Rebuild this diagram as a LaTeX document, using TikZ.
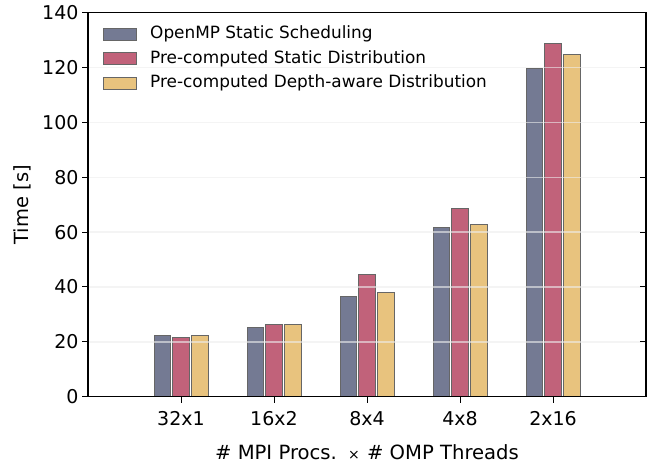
\documentclass[tikz,border=0pt]{standalone}
\usepackage{fontspec}
\setmainfont{DejaVu Sans}

\definecolor{ompblue}{HTML}{747A93}
\definecolor{statred}{HTML}{C1627A}
\definecolor{depthyel}{HTML}{E8C37E}

\tikzset{
  bar/.style={draw=black!60, line width=0.9pt},
  gridline/.style={draw=black!7, line width=1.4pt, opacity=0.6},
  ticklabel/.style={font=\fontsize{19}{22}\selectfont, inner sep=0pt},
  legendlabel/.style={font=\fontsize{16.9}{19}\selectfont, anchor=west, inner sep=0pt},
}

\begin{document}
\begin{tikzpicture}[x=1pt,y=1pt]
  \useasboundingbox (0,0) rectangle (656,466);

  \begin{scope}[shift={(88,69.3)}, x=93pt, y=2.743pt]
    % bars
    \foreach \cx/\va/\vb/\vc in {1/22.4/21.7/22.5, 2/25.4/26.5/26.2, 3/36.7/44.6/38.1, 4/61.8/68.5/62.9, 5/119.6/128.7/124.7} {
      \filldraw[bar, fill=ompblue]  (\cx-0.29,0) rectangle (\cx-0.11,\va);
      \filldraw[bar, fill=statred]  (\cx-0.09,0) rectangle (\cx+0.09,\vb);
      \filldraw[bar, fill=depthyel] (\cx+0.11,0) rectangle (\cx+0.29,\vc);
    }

    % grid
    \foreach \v in {20,40,...,120}
      \draw[gridline] (0,\v) -- (6,\v);

    % frame and ticks
    \draw[line width=1.3pt] (0,0) rectangle (6,140);
    \foreach \v in {0,20,...,140} {
      \draw[line width=1pt] (0,\v) -- ++(-6pt,0) node[ticklabel, anchor=east, xshift=-3pt] (ylab\v) {\v};
      \draw[line width=1pt] (6,\v) -- ++(-6pt,0);
    }
    \foreach \cx/\lab in {1/32x1, 2/16x2, 3/8x4, 4/4x8, 5/2x16}
      \draw[line width=1pt] (\cx,0) -- ++(0,-6pt) node[ticklabel, below=8pt] (xlab\cx) {\lab};

    \node[ticklabel, font=\fontsize{19.6}{22}\selectfont] (xtitle) at (3,0) [yshift=-55.3pt]
      {\# MPI Procs.\hspace{3pt} {\fontsize{14}{16}\selectfont×}\hspace{1pt} \# OMP Threads};
  \end{scope}

  \node[ticklabel, font=\fontsize{19.5}{22}\selectfont, rotate=90] (ytitle) at (22,261.3) {Time [s]};

  % legend
  \foreach \i/\col/\txt in {0/ompblue/OpenMP Static Scheduling, 1/statred/Pre-computed Static Distribution, 2/depthyel/Pre-computed Depth-aware Distribution} {
    \filldraw[bar, fill=\col] (103,431.7-24.5*\i-6) rectangle (136,431.7-24.5*\i+6);
    \node[legendlabel] (leg\i) at (150,431.7-24.5*\i) {\txt};
  }
\end{tikzpicture}
\end{document}
